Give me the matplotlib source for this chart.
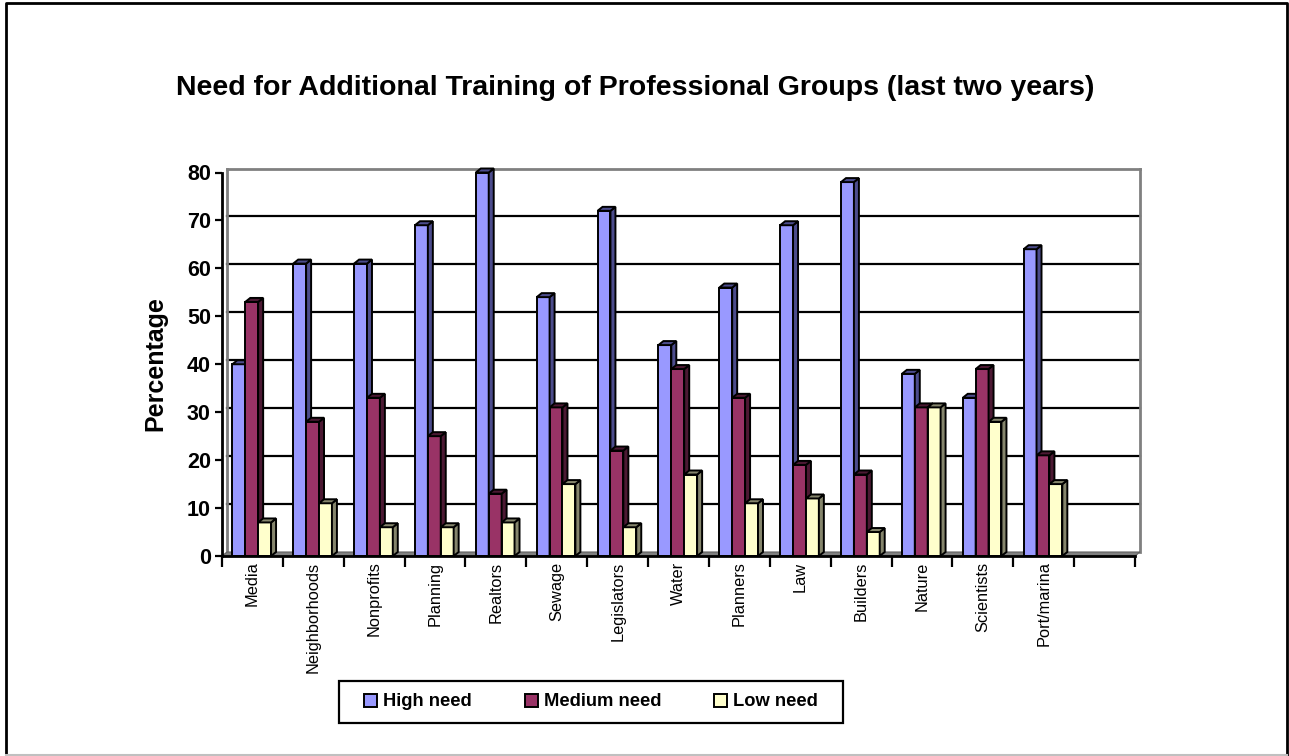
import numpy as np
import matplotlib.pyplot as plt
from matplotlib.patches import Polygon, Patch, Rectangle
from matplotlib.lines import Line2D

plt.rcParams['font.family'] = ['Liberation Sans', 'DejaVu Sans']

categories = ['Media', 'Neighborhoods', 'Nonprofits', 'Planning', 'Realtors', 'Sewage',
              'Legislators', 'Water', 'Planners', 'Law', 'Builders', 'Nature',
              'Scientists', 'Port/marina']
high_need = [40, 61, 61, 69, 80, 54, 72, 44, 56, 69, 78, 38, 33, 64]
medium_need = [53, 28, 33, 25, 13, 31, 22, 39, 33, 19, 17, 31, 39, 21]
low_need = [7, 11, 6, 6, 7, 15, 6, 17, 11, 12, 5, 31, 28, 15]
series_names = ['High need', 'Medium need', 'Low need']
y_ticks = [0, 10, 20, 30, 40, 50, 60, 70, 80]

face_colors = ['#9999FF', '#993366', '#FFFFCC']
side_colors = ['#4C4C8C', '#4C1933', '#85856C']

W, H = 1289, 756
fig = plt.figure(figsize=(W / 100, H / 100), dpi=100)
ax_w, ax_h = 913, 383.5
ax = fig.add_axes([222 / W, 1 - 556 / H, ax_w / W, ax_h / H])
n_slots = 15  # one empty slot at the end, like the original
ax.set_xlim(0, n_slots)
ax.set_ylim(0, 80)

# depth of the fake 3d, in data units
dx = 5 / (ax_w / n_slots)
dy = 4 / (ax_h / 80)

bar_w = 0.212
bar_off = 0.17

# back wall, floor and gridlines
wall = dict(color='#808080', lw=2, clip_on=False, zorder=2)
ax.add_line(Line2D([dx, dx], [dy, 80 + dy], **wall))
ax.add_line(Line2D([dx, n_slots + dx], [80 + dy, 80 + dy], **wall))
ax.add_line(Line2D([n_slots + dx, n_slots + dx], [dy, 80 + dy], **wall))
for v in y_ticks[1:-1]:
    ax.add_line(Line2D([dx, n_slots + dx], [v + dy, v + dy], color='black', lw=1.6,
                       clip_on=False, zorder=1))
floor = Polygon([(0, 0), (dx, dy), (n_slots + dx, dy), (n_slots, 0)], closed=True,
                facecolor='#808080', edgecolor='#606060', lw=0.8, clip_on=False, zorder=2)
ax.add_patch(floor)


def box3d(x0, h, face, side):
    kw = dict(closed=True, edgecolor='black', lw=1.4, clip_on=False, zorder=3,
              joinstyle='miter')
    ax.add_patch(Polygon([(x0, 0), (x0 + bar_w, 0), (x0 + bar_w, h), (x0, h)],
                         facecolor=face, **kw))
    ax.add_patch(Polygon([(x0 + bar_w, 0), (x0 + bar_w + dx, dy), (x0 + bar_w + dx, h + dy),
                          (x0 + bar_w, h)], facecolor=side, **kw))
    ax.add_patch(Polygon([(x0, h), (x0 + dx, h + dy), (x0 + bar_w + dx, h + dy),
                          (x0 + bar_w, h)], facecolor=side, **kw))


all_series = [high_need, medium_need, low_need]
for i in range(len(categories)):
    for j, vals in enumerate(all_series):
        box3d(i + bar_off + j * bar_w, vals[i], face_colors[j], side_colors[j])

# axes
for s in ['top', 'right']:
    ax.spines[s].set_visible(False)
for s in ['left', 'bottom']:
    ax.spines[s].set_linewidth(2)
    ax.spines[s].set_zorder(4)

ax.set_yticks(y_ticks)
ax.set_yticklabels([str(v) for v in y_ticks], fontsize=15.5, fontweight='bold')
ax.tick_params(axis='y', direction='out', length=5, width=1.6, pad=3)

ax.set_xticks(np.arange(n_slots + 1))
ax.set_xticklabels([])
ax.tick_params(axis='x', which='major', direction='out', length=8, width=1.6)
ax.set_xticks(np.arange(len(categories)) + 0.5, minor=True)
ax.set_xticklabels(categories, minor=True, rotation=90, fontsize=11.8, va='top')
ax.tick_params(axis='x', which='minor', length=0, pad=4)

fig.text(635 / W, 1 - 88 / H, 'Need for Additional Training of Professional Groups (last two years)',
         ha='center', va='center', fontsize=20.5, fontweight='bold')
fig.text(155 / W, 1 - 364 / H, 'Percentage', rotation=90, ha='center', va='center',
         fontsize=18, fontweight='bold')

# legend: box drawn separately so its padding matches the original
fig.add_artist(Rectangle((339 / W, 1 - 723 / H), 504 / W, 42 / H, transform=fig.transFigure,
                         facecolor='white', edgecolor='black', lw=1.6, zorder=4))
handles = [Patch(facecolor=face_colors[k], edgecolor='black', lw=1.4) for k in range(3)]
leg = fig.legend(handles, series_names, loc='center', bbox_to_anchor=(591 / W, 1 - 702 / H),
                 ncol=3, prop={'weight': 'bold', 'size': 13.2}, handlelength=0.72,
                 handleheight=0.72, handletextpad=0.3, columnspacing=2.9, frameon=False)
leg.set_zorder(5)

# outer chart border
bx0, bx1, by0, by1 = 5.5 / W, 1287 / W, 1 - 3 / H, 1 - 755 / H
fig.add_artist(Line2D([bx0, bx0, bx1, bx1], [by1, by0, by0, by1], color='black', lw=2,
                      transform=fig.transFigure))
fig.add_artist(Line2D([bx0, bx1], [by1, by1], color='#c0c0c0', lw=1.5,
                      transform=fig.transFigure))

fig.savefig('out.png', dpi=100)
